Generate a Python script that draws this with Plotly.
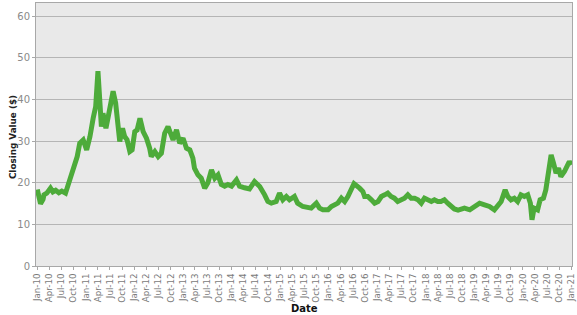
import plotly.graph_objects as go
import pandas as pd

dates = [
"2010-01-01","2010-01-13","2010-01-25","2010-02-13","2010-02-20","2010-03-13","2010-04-10","2010-04-28",
"2010-05-19","2010-06-12","2010-07-04","2010-08-01","2010-08-25","2010-09-13","2010-10-02","2010-10-28",
"2010-11-16","2010-12-12","2011-01-07","2011-02-01","2011-02-25","2011-03-16","2011-04-02","2011-04-15",
"2011-04-28","2011-05-10","2011-06-01","2011-06-16","2011-07-04","2011-07-25","2011-08-13","2011-08-26",
"2011-09-13","2011-10-04","2011-10-20","2011-11-07","2011-11-28","2011-12-15","2012-01-04","2012-01-22",
"2012-02-12","2012-03-07","2012-04-01","2012-04-25","2012-05-07","2012-06-03","2012-06-28","2012-07-22",
"2012-08-16","2012-09-10","2012-10-06","2012-10-18","2012-11-13","2012-12-07","2013-01-01","2013-01-27",
"2013-02-21","2013-03-16","2013-03-28","2013-04-23","2013-05-18","2013-06-13","2013-07-07","2013-08-03",
"2013-08-28","2013-09-21","2013-10-16","2013-11-10","2013-12-04","2014-01-01","2014-02-07","2014-03-02",
"2014-04-09","2014-05-04","2014-05-16","2014-06-23","2014-08-01","2014-09-07","2014-10-01","2014-10-27",
"2014-12-03","2014-12-28","2015-01-22","2015-02-17","2015-03-13","2015-04-19","2015-05-13","2015-06-21",
"2015-07-28","2015-08-23","2015-10-01","2015-10-25","2015-11-19","2015-12-28","2016-01-22","2016-02-16",
"2016-03-10","2016-04-06","2016-05-01","2016-05-25","2016-06-19","2016-07-01","2016-07-10","2016-08-21",
"2016-09-15","2016-09-28","2016-10-22","2016-11-18","2016-12-12","2017-01-07","2017-02-01","2017-02-26",
"2017-03-21","2017-04-15","2017-05-10","2017-06-04","2017-07-01","2017-07-25","2017-08-19","2017-09-13",
"2017-10-09","2017-11-03","2017-11-28","2017-12-22","2018-01-16","2018-02-12","2018-03-07","2018-04-01",
"2018-04-25","2018-05-21","2018-06-15","2018-07-10","2018-08-04","2018-09-01","2018-09-13","2018-10-19",
"2018-11-28","2019-01-04","2019-02-10","2019-03-19","2019-04-25","2019-06-01","2019-06-25","2019-07-22",
"2019-08-21","2019-09-10","2019-10-04","2019-10-29","2019-11-23","2019-12-18","2020-01-13","2020-02-07",
"2020-02-27","2020-03-10","2020-03-26","2020-04-21","2020-05-10","2020-06-04","2020-06-22","2020-07-12",
"2020-08-01","2020-08-19","2020-09-07","2020-09-26","2020-10-13","2020-11-09","2020-11-29","2020-12-16",
"2020-12-31",
]

closing = [
18.4,16.5,15.0,16.0,17.1,17.5,18.7,17.8,
18.2,17.6,18.0,17.5,20.0,21.8,23.9,26.3,
29.5,30.3,27.9,31.1,35.5,38.3,46.8,39.2,
33.5,36.7,33.1,35.5,39.2,42.0,39.2,35.1,
29.9,33.1,31.1,30.3,27.5,27.9,32.3,32.7,
35.5,32.3,30.7,28.3,26.3,27.5,26.3,27.1,
31.9,33.5,31.1,30.3,32.7,29.5,30.7,28.3,
27.9,25.9,23.5,21.9,21.1,18.7,20.0,23.1,
21.1,21.9,19.6,19.2,19.6,19.2,20.7,19.2,
18.8,18.4,18.5,20.3,19.1,17.1,15.5,15.1,
15.5,17.5,15.9,16.7,15.9,16.7,15.1,14.3,
13.9,13.9,15.1,13.9,13.5,13.5,14.3,14.7,
15.1,16.3,15.5,16.7,18.7,19.5,19.8,18.7,
17.9,16.7,16.7,15.9,15.1,15.5,16.7,17.1,
17.5,16.7,16.3,15.5,15.9,16.3,17.1,16.3,
16.3,15.9,15.1,16.3,15.9,15.5,15.9,15.5,
15.5,15.9,15.1,14.3,13.7,13.4,13.5,13.9,
13.5,14.3,15.1,14.7,14.3,13.5,14.3,15.5,
18.3,16.7,15.9,16.3,15.5,17.1,16.7,17.1,
15.1,11.1,13.9,13.5,15.9,16.3,18.3,23.1,
26.7,24.7,22.3,23.5,21.5,22.7,24.0,25.1,
24.3,
]

tick_dates = [d.strftime("%Y-%m-%d") for d in pd.date_range("2010-01-01", "2021-01-01", freq="QS")]
tick_labels = [pd.Timestamp(d).strftime("%b-%y") for d in tick_dates]
y_ticks = [0, 10, 20, 30, 40, 50, 60]

fig = go.Figure()
fig.add_trace(go.Scatter(
    x=dates, y=closing, mode="lines",
    line=dict(color="#4dab3a", width=5),
    hoverinfo="skip", showlegend=False,
))

fig.update_layout(
    width=577, height=315,
    margin=dict(l=36, r=5, t=3, b=49),
    paper_bgcolor="white",
    plot_bgcolor="#e9e9e9",
    font=dict(family="DejaVu Sans", size=10, color="#808080"),
    xaxis=dict(
        range=["2009-12-22", "2021-01-05"],
        automargin=False,
        tickmode="array", tickvals=tick_dates, ticktext=tick_labels,
        tickangle=-90, tickfont=dict(size=8.7, color="#7a7a7a"),
        showgrid=False, zeroline=False,
        showline=True, linecolor="#a8a8a8", linewidth=1, mirror=True,
        ticks="outside", ticklen=3, tickcolor="#a8a8a8",
    ),
    yaxis=dict(
        range=[0, 63.2],
        automargin=False,
        tickmode="array", tickvals=y_ticks,
        tickfont=dict(size=10, color="#8a8a8a"),
        showgrid=True, gridcolor="#b5b5b5", gridwidth=1, zeroline=False,
        showline=True, linecolor="#a8a8a8", linewidth=1, mirror=True,
        ticks="outside", ticklen=3, tickcolor="#a8a8a8",
    ),
    annotations=[
        dict(text="<b>Date</b>", xref="paper", yref="paper", x=0.5, y=-0.16,
             xanchor="center", yanchor="middle", showarrow=False,
             font=dict(family="DejaVu Sans", size=10, color="#111111")),
        dict(text="<b>Closing Value ($)</b>", xref="paper", yref="paper", x=-0.043, y=0.49,
             xanchor="center", yanchor="middle", showarrow=False, textangle=-90,
             font=dict(family="DejaVu Sans", size=8.8, color="#222222")),
    ],
)

fig.write_html("out.html")
